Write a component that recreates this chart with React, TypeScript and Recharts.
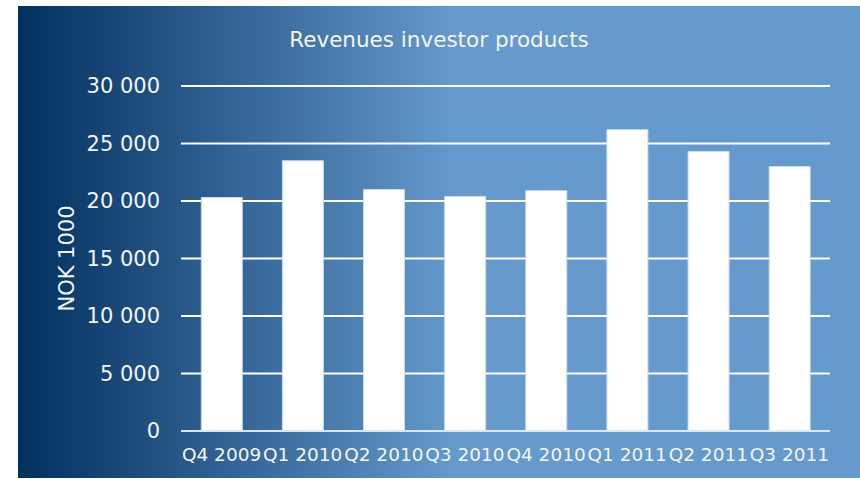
import React from 'react';
import { BarChart, Bar, XAxis, YAxis, CartesianGrid } from 'recharts';

const quarters = ['Q4 2009', 'Q1 2010', 'Q2 2010', 'Q3 2010', 'Q4 2010', 'Q1 2011', 'Q2 2011', 'Q3 2011'];
const revenues = [20300, 23500, 21000, 20400, 20900, 26200, 24300, 23000];
const yTicks = [0, 5000, 10000, 15000, 20000, 25000, 30000];

const data = quarters.map((q, i) => ({ name: q, value: revenues[i] }));

const fmt = (v: number) => String(v).replace(/\B(?=(\d{3})+(?!\d))/g, ' ');

const font = '"DejaVu Sans", Verdana, sans-serif';
const textColor = '#f2f6fb';

const App: React.FC = () => {
  return (
    <div style={{ position: 'absolute', left: 0, top: 0, width: 860, height: 479, background: '#fff' }}>
      <div
        style={{
          position: 'absolute',
          left: 18,
          top: 6,
          width: 842,
          height: 472,
          background: 'linear-gradient(to right, #02305f 0%, #6699cc 52%, #6699cc 100%)',
          fontFamily: font,
        }}
      >
        <div
          style={{
            position: 'absolute',
            left: 0,
            top: 21,
            width: 842,
            textAlign: 'center',
            color: textColor,
            fontSize: 21.5,
            lineHeight: '26px',
          }}
        >
          Revenues investor products
        </div>
        <BarChart
          width={842}
          height={472}
          data={data}
          margin={{ top: 80, right: 30, left: 0, bottom: 17 }}
          barCategoryGap="25%"
        >
          <CartesianGrid horizontal vertical={false} stroke="#ffffff" strokeWidth={2} />
          <XAxis
            dataKey="name"
            height={30}
            interval={0}
            tickSize={0}
            tickMargin={17}
            axisLine={{ stroke: '#dbe7f3', strokeWidth: 2 }}
            tick={{ fill: textColor, fontSize: 18.5, fontFamily: font }}
          />
          <YAxis
            width={163}
            domain={[0, 30000]}
            ticks={yTicks}
            tickFormatter={fmt}
            axisLine={false}
            tickLine={false}
            tickSize={0}
            tickMargin={21}
            tick={{ fill: textColor, fontSize: 21, fontFamily: font }}
            label={{ value: 'NOK 1000', angle: -90, position: 'center', dx: -33, fill: textColor, fontSize: 21, fontFamily: font }}
          />
          <Bar dataKey="value" fill="#ffffff" stroke="#c9dbee" strokeWidth={1} isAnimationActive={false} />
        </BarChart>
      </div>
    </div>
  );
};

export default App;
